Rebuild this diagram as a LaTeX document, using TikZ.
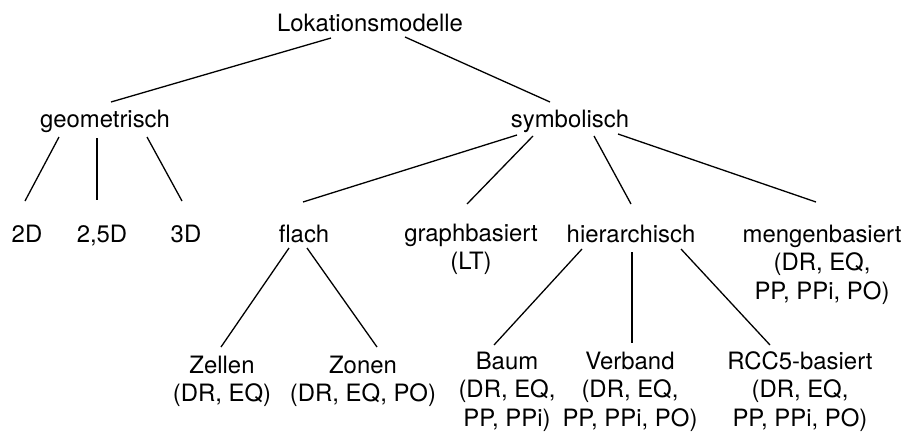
\documentclass[tikz,border=0pt]{standalone}
\usepackage{fontspec}
\setmainfont{TeX Gyre Heros}
\begin{document}
\begin{tikzpicture}[x=1pt,y=-1pt,
  lbl/.style={inner sep=0pt, anchor=base, font=\fontsize{23.9pt}{28.5pt}\selectfont},
  branch/.style={line width=1.3pt, line cap=butt}]
\useasboundingbox (0,0) rectangle (904,434);
\newcommand{\stack}[1]{\begin{tabular}[t]{@{}c@{}}#1\end{tabular}}

% root and first level
\node[lbl] (lok)  at (370,31)  {Lokationsmodelle};
\node[lbl] (geo)  at (105,127) {geometrisch};
\node[lbl] (sym)  at (570,127) {symbolisch};

% second level
\node[lbl] (d2)    at (27,242)  {2D};
\node[lbl] (d25)   at (102,242) {2,5D};
\node[lbl] (d3)    at (186,242) {3D};
\node[lbl] (flach) at (304,242) {flach};
\node[lbl] (graph) at (471,241) {\stack{graphbasiert\\(LT)}};
\node[lbl] (hier)  at (631,242) {hierarchisch};
\node[lbl] (menge) at (822,242) {\stack{mengenbasiert\\(DR, EQ,\\PP, PPi, PO)}};

% third level
\node[lbl] (zellen)  at (222,373) {\stack{Zellen\\(DR, EQ)}};
\node[lbl] (zonen)   at (363,373) {\stack{Zonen\\(DR, EQ, PO)}};
\node[lbl] (baum)    at (507,369) {\stack{Baum\\(DR, EQ,\\PP, PPi)}};
\node[lbl] (verband) at (630,369) {\stack{Verband\\(DR, EQ,\\PP, PPi, PO)}};
\node[lbl] (rcc)     at (800,369) {\stack{RCC5-basiert\\(DR, EQ,\\PP, PPi, PO)}};

% branches
\draw[branch] ([shift={(-39,7)}]lok.base) -- ([shift={(6,-25)}]geo.base);
\draw[branch] ([shift={(35,6)}]lok.base)  -- ([shift={(-20,-25)}]sym.base);

\draw[branch] ([shift={(-46,10)}]geo.base) -- ([shift={(-2,-41)}]d2.base);
\draw[branch] ([shift={(-8,11)}]geo.base)  -- ([shift={(-5,-42)}]d25.base);
\draw[branch] ([shift={(42,10)}]geo.base)  -- ([shift={(-4,-41)}]d3.base);

\draw[branch] ([shift={(-53,8)}]sym.base) -- ([shift={(-1,-40)}]flach.base);
\draw[branch] ([shift={(-37,9)}]sym.base) -- ([shift={(-4,-37)}]graph.base);
\draw[branch] ([shift={(24,9)}]sym.base)  -- ([shift={(0,-38)}]hier.base);
\draw[branch] ([shift={(48,7)}]sym.base)  -- ([shift={(-6,-40)}]menge.base);

\draw[branch] ([shift={(-15,6)}]flach.base) -- ([shift={(-1,-26)}]zellen.base);
\draw[branch] ([shift={(3,6)}]flach.base)   -- ([shift={(14,-26)}]zonen.base);

\draw[branch] ([shift={(-49,7)}]hier.base) -- ([shift={(-13,-24)}]baum.base);
\draw[branch] ([shift={(1,10)}]hier.base)  -- ([shift={(2,-26)}]verband.base);
\draw[branch] ([shift={(50,7)}]hier.base)  -- ([shift={(-30,-24)}]rcc.base);
\end{tikzpicture}
\end{document}
